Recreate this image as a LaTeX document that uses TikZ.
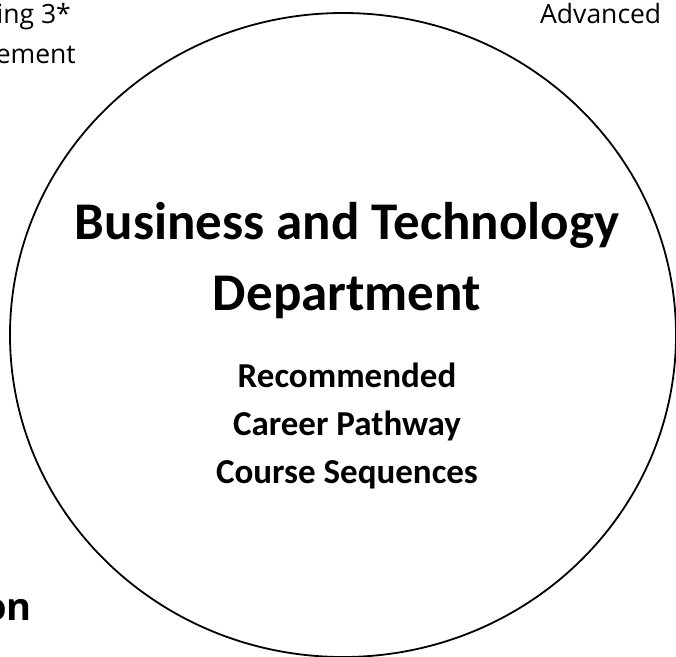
\documentclass[tikz,border=0pt]{standalone}
\usepackage{fontspec}
\setmainfont{Open Sans}
\newfontfamily\calibri{Carlito}

\tikzset{
  title/.style={font=\calibri\bfseries\fontsize{53}{60}\selectfont, inner sep=0pt, anchor=base},
  subline/.style={font=\calibri\bfseries\fontsize{35}{40}\selectfont, inner sep=0pt, anchor=base},
  edgelabel/.style={font=\fontsize{26.5}{30}\selectfont, inner sep=0pt},
}

\begin{document}
\begin{tikzpicture}[x=1pt,y=-1pt]
  % page frame, one unit = one pixel of the page
  \useasboundingbox (0,0) rectangle (676,656);
  \clip (0,0) rectangle (676,656);

  %-----------------------------
  % The department outline (runs off the page at the bottom)
  \coordinate (hub) at (343,335);
  \draw[line width=1.8pt] (hub) ellipse (333pt and 322pt);

  %-----------------------------
  % Heading inside the outline
  \def\midx{347}
  \node[title] (biz)  at (\midx,239) {Business and Technology};
  \node[title] (dept) at (\midx,310) {Department};

  \node[subline] (rec)    at (\midx,387) {Recommended};
  \node[subline] (career) at (\midx,435) {Career Pathway};
  \node[subline] (course) at (\midx,483) {Course Sequences};

  %-----------------------------
  % Labels cut by the page edge
  \node[edgelabel, anchor=base east] (prog)  at (71,23)  {ing 3*};
  \node[edgelabel, anchor=base east] (place) at (76,63)  {ement};
  \node[edgelabel, anchor=base west] (adv)   at (540,23) {Advanced};
  \node[edgelabel, anchor=base east, font=\bfseries\fontsize{38}{44}\selectfont] (info) at (32,620) {on};
\end{tikzpicture}
\end{document}
